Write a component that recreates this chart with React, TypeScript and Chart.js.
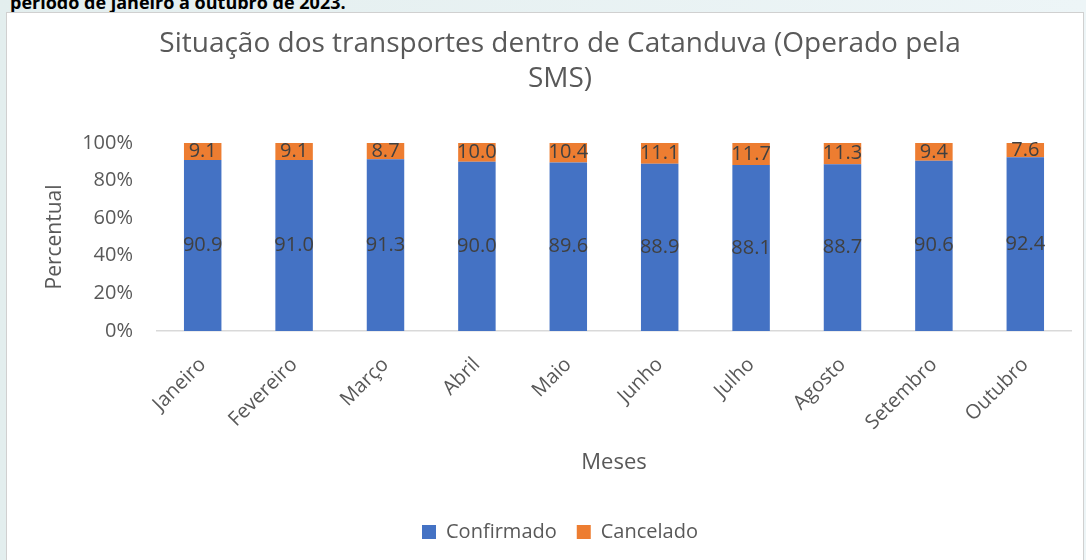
import React, { useEffect, useRef } from "react";
import { Chart, registerables } from "chart.js";

Chart.register(...registerables);

const months = ["Janeiro", "Fevereiro", "Março", "Abril", "Maio", "Junho", "Julho", "Agosto", "Setembro", "Outubro"];
const confirmado = [90.9, 91.0, 91.3, 90.0, 89.6, 88.9, 88.1, 88.7, 90.6, 92.4];
const cancelado = [9.1, 9.1, 8.7, 10.0, 10.4, 11.1, 11.7, 11.3, 9.4, 7.6];
const seriesNames = ["Confirmado", "Cancelado"];
const titleLines = ["Situação dos transportes dentro de Catanduva (Operado pela", "SMS)"];
const headerText = "período de janeiro a outubro de 2023.";

const FONT = "'Open Sans', 'Noto Sans', sans-serif";
const GRAY = "#595959";

const share = (vals: number[]) => vals.map((v, i) => (v / (confirmado[i] + cancelado[i])) * 100);

const labelPlugin = {
  id: "segLabels",
  afterDatasetsDraw(chart: any) {
    const ctx = chart.ctx;
    const raws = [confirmado, cancelado];
    ctx.save();
    ctx.font = `20px ${FONT}`;
    ctx.fillStyle = "#404040";
    ctx.textAlign = "center";
    ctx.textBaseline = "middle";
    chart.data.datasets.forEach((ds: any, di: number) => {
      const meta = chart.getDatasetMeta(di);
      meta.data.forEach((bar: any, i: number) => {
        const y = (bar.y + bar.base) / 2;
        ctx.fillText(raws[di][i].toFixed(1), bar.x, y);
      });
    });
    ctx.restore();
  },
};

export default function App() {
  const ref = useRef<HTMLCanvasElement>(null);
  useEffect(() => {
    document.body.style.margin = "0";
    const chart = new Chart(ref.current!, {
      type: "bar",
      data: {
        labels: months,
        datasets: [
          { label: seriesNames[0], data: share(confirmado), backgroundColor: "#4472C4", categoryPercentage: 1, barPercentage: 0.41 },
          { label: seriesNames[1], data: share(cancelado), backgroundColor: "#ED7D31", categoryPercentage: 1, barPercentage: 0.41 },
        ],
      },
      options: {
        animation: false,
        responsive: false,
        layout: { padding: { left: 42, right: 12, top: 0, bottom: 8 } },
        plugins: {
          title: {
            display: true,
            text: titleLines,
            color: GRAY,
            font: { family: FONT, size: 28, weight: "normal", lineHeight: 1.25 },
            padding: { top: 14, bottom: 46 },
          },
          legend: {
            position: "bottom",
            labels: {
              color: GRAY,
              font: { family: FONT, size: 20 },
              boxWidth: 14,
              boxHeight: 14,
              padding: 20,
            },
          },
          tooltip: { enabled: false },
        },
        scales: {
          x: {
            stacked: true,
            grid: { display: false },
            border: { color: "#d9d9d9", width: 1.5 },
            ticks: { color: GRAY, font: { family: FONT, size: 20 }, minRotation: 45, maxRotation: 45, padding: 14 },
            title: { display: true, text: "Meses", color: GRAY, font: { family: FONT, size: 22 }, padding: { top: 1, bottom: 26 } },
          },
          y: {
            stacked: true,
            min: 0,
            max: 100,
            grid: { display: false, drawTicks: false },
            border: { display: false },
            ticks: { stepSize: 20, color: GRAY, font: { family: FONT, size: 20 }, padding: 24, callback: (v: any) => v + "%" },
            title: { display: true, text: "Percentual", color: GRAY, font: { family: FONT, size: 21 }, padding: { top: -7, bottom: 0 } },
            afterFit: (s: any) => { s.width = 108; },
          },
        },
      },
      plugins: [labelPlugin],
    });
    return () => chart.destroy();
  }, []);

  return (
    <div style={{ position: "relative", width: 1086, height: 560, overflow: "hidden", background: "linear-gradient(to right, #e3eeee, #edf5f7)" }}>
      <div style={{ position: "absolute", left: 10, top: -10, font: `bold 18px ${FONT}`, color: "#000", whiteSpace: "nowrap" }}>{headerText}</div>
      <div style={{ position: "absolute", left: 6, top: 12, width: 1076, height: 560, border: "1px solid #d0d0d0", background: "#fff" }}>
        <canvas ref={ref} width={1076} height={547} style={{ display: "block", width: 1076, height: 547 }} />
      </div>
    </div>
  );
}
